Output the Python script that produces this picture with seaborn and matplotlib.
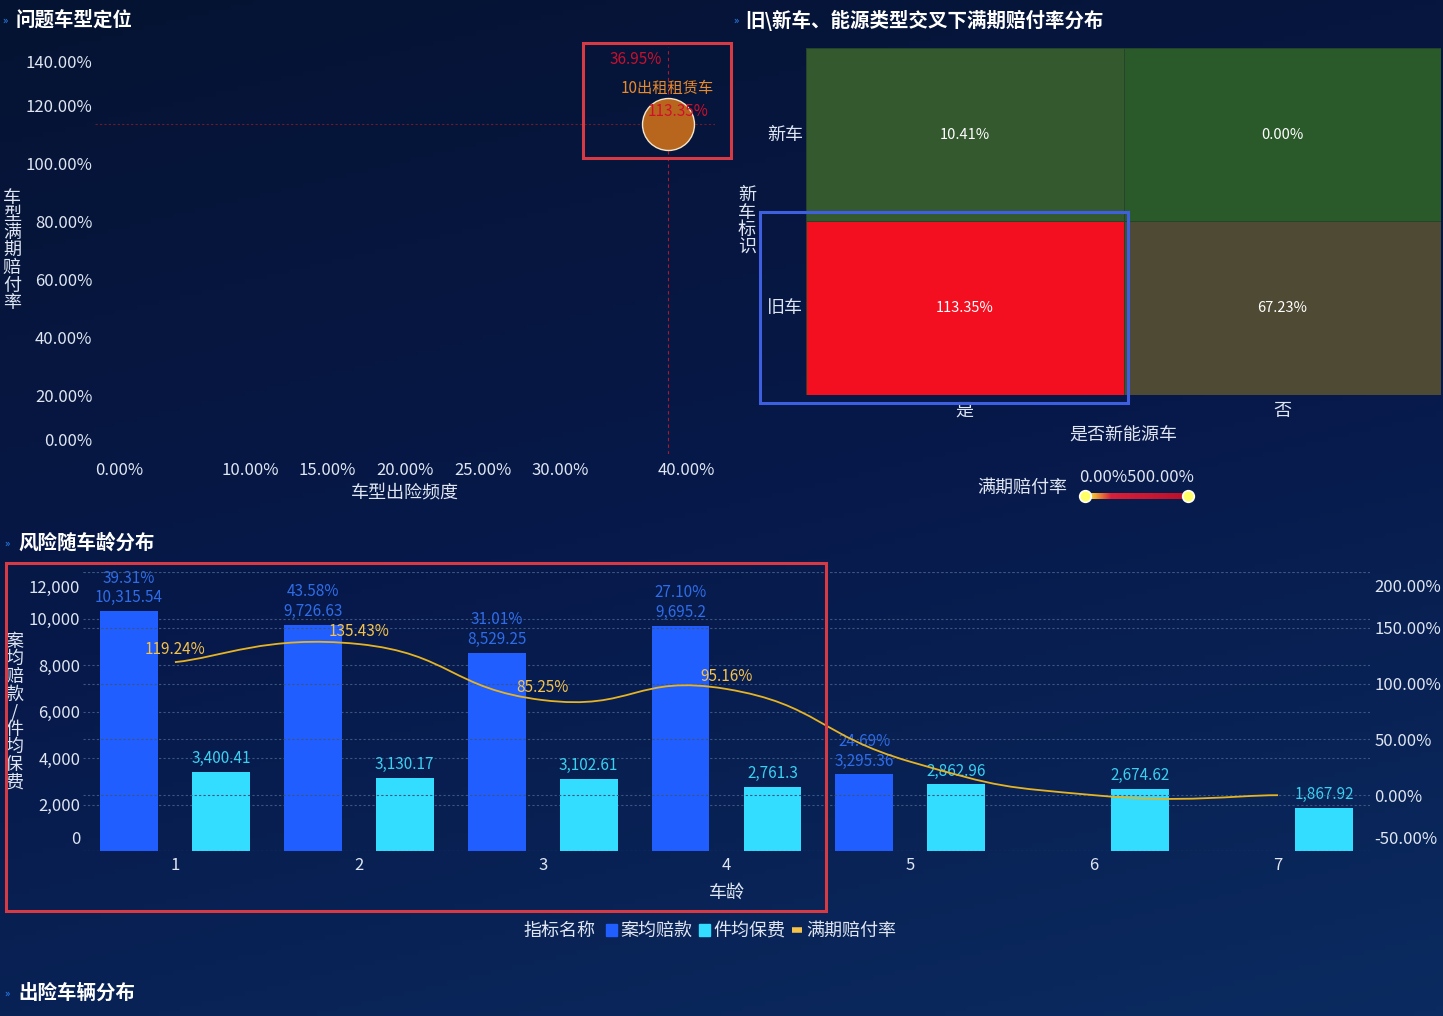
import numpy as np
import pandas as pd
import seaborn as sns
import matplotlib.pyplot as plt
from matplotlib.colors import LinearSegmentedColormap
from matplotlib.patches import Rectangle, PathPatch, Patch
from matplotlib.path import Path
from matplotlib.lines import Line2D
from matplotlib.transforms import ScaledTranslation

W, H = 1443, 1016

# 问题车型定位
car_type = ["10出租租赁车"]
freq_x = [0.3695]
loss_y = [1.1335]
sc_xticks = [0.0, 0.10, 0.15, 0.20, 0.25, 0.30, 0.40]
sc_yticks = [0.0, 0.2, 0.4, 0.6, 0.8, 1.0, 1.2, 1.4]

# 旧\新车、能源类型交叉
new_flag = ["新车", "旧车"]
nev_flag = ["是", "否"]
heat_new = [0.1041, 0.0]
heat_old = [1.1335, 0.6723]
vm_range = [0.0, 5.0]

# 风险随车龄分布
ages = [1, 2, 3, 4, 5, 6, 7]
avg_claim = [10315.54, 9726.63, 8529.25, 9695.2, 3295.36, np.nan, np.nan]
claim_freq = [0.3931, 0.4358, 0.3101, 0.2710, 0.2469, np.nan, np.nan]
avg_premium = [3400.41, 3130.17, 3102.61, 2761.3, 2862.96, 2674.62, 1867.92]
loss_ratio = [119.24, 135.43, 85.25, 95.16, 30.0, 0.0, 0.0]
left_ticks = [0, 2000, 4000, 6000, 8000, 10000, 12000]
right_ticks = [-50, 0, 50, 100, 150, 200]

BLUE = "#215eff"
CYAN = "#33ddff"
GOLD = "#e6b422"
TXT = "#dfe6f2"

sns.set_theme(style="white")
plt.rcParams["font.family"] = ["Noto Sans CJK SC", "DejaVu Sans"]
plt.rcParams["axes.unicode_minus"] = False

fig = plt.figure(figsize=(W / 100, H / 100), dpi=100)


def box(l, t, r, b):
    return [l / W, 1 - b / H, (r - l) / W, (b - t) / H]


def pull_in(labels, px):
    # move the first / last tick label inwards, like the dashboard does
    labels[0].set_transform(labels[0].get_transform() + ScaledTranslation(0, px / 100, fig.dpi_scale_trans))
    labels[-1].set_transform(labels[-1].get_transform() + ScaledTranslation(0, -px / 100, fig.dpi_scale_trans))


# background
bg = fig.add_axes([0, 0, 1, 1], zorder=-10)
yy, xx = np.mgrid[0:1:200j, 0:1:200j]
bg_cmap = LinearSegmentedColormap.from_list("bg", ["#051332", "#07194a", "#0b2b60"])
bg.imshow(0.75 * yy + 0.25 * xx, cmap=bg_cmap, aspect="auto", extent=[0, 1, 1, 0])
bg.axis("off")

# ---------- scatter ----------
ax1 = fig.add_axes(box(95, 47, 715, 454))
ax1.set_facecolor("none")
df_sc = pd.DataFrame({"车型": car_type, "车型出险频度": freq_x, "车型满期赔付率": loss_y})
ax1.axvline(freq_x[0], color="#b0182a", ls=(0, (3, 3)), lw=0.8, zorder=1)
ax1.axhline(loss_y[0], color="#6e1a2a", ls=(0, (2, 2)), lw=0.8, zorder=1)
sns.scatterplot(data=df_sc, x="车型出险频度", y="车型满期赔付率", s=1400, color="#b8661e",
                edgecolor="#f3e6cc", linewidth=1, ax=ax1, zorder=3)
ax1.set_xlim(0, 0.40)
ax1.set_ylim(0, 1.40)
ax1.annotate(f"{freq_x[0]:.2%}", (freq_x[0], 1.40), xytext=(-32, -12), textcoords="offset pixels",
             ha="center", va="center", color="#c8102e", fontsize=11)
ax1.annotate(car_type[0], (freq_x[0], loss_y[0]), xytext=(0, 36), textcoords="offset pixels",
             ha="center", va="center", color="#e8892a", fontsize=11, zorder=4)
ax1.annotate(f"{loss_y[0]:.2%}", (freq_x[0], loss_y[0]), xytext=(10, 13), textcoords="offset pixels",
             ha="center", va="center", color="#d0102a", fontsize=11, zorder=4)
ax1.set_xticks(sc_xticks)
ax1.set_xticklabels([f"{t:.2%}" for t in sc_xticks])
ax1.set_yticks(sc_yticks)
ax1.set_yticklabels([f"{t:.2%}" for t in sc_yticks])
ax1.get_xticklabels()[0].set_ha("left")
ax1.get_xticklabels()[-1].set_ha("right")
ax1.tick_params(axis="x", colors=TXT, labelsize=12, length=0, pad=6)
ax1.tick_params(axis="y", colors=TXT, labelsize=12, length=0, pad=2)
pull_in(ax1.get_yticklabels(), 15)
ax1.set_xlabel("车型出险频度", color=TXT, fontsize=13, labelpad=3)
ax1.set_ylabel("\n".join("车型满期赔付率"), color=TXT, fontsize=13, rotation=0,
               ha="center", va="center", linespacing=0.97)
ax1.yaxis.set_label_coords(-0.134, 0.5)
sns.despine(ax=ax1, left=True, bottom=True)

# ---------- heatmap ----------
ax2 = fig.add_axes(box(806, 48, 1441, 395))
df_heat = pd.DataFrame([heat_new, heat_old], index=new_flag, columns=nev_flag)
vmax = df_heat.values.max()
heat_cmap = LinearSegmentedColormap.from_list(
    "heat", [(0, "#2b5a2a"), (0.1041 / vmax, "#34592f"), (0.6723 / vmax, "#4f4a33"), (1.0, "#f40f20")])
annot = np.array([[f"{v:.2%}" for v in row] for row in df_heat.values])
sns.heatmap(df_heat, cmap=heat_cmap, vmin=0, vmax=vmax, annot=annot, fmt="", cbar=False,
            linewidths=0.6, linecolor="#24452a", annot_kws={"color": "white", "fontsize": 10.5}, ax=ax2)
ax2.tick_params(axis="x", colors=TXT, labelsize=13, length=0, pad=5)
ax2.tick_params(axis="y", colors=TXT, labelsize=13, length=0, pad=2)
plt.setp(ax2.get_yticklabels(), rotation=0)
ax2.set_xlabel("是否新能源车", color=TXT, fontsize=13, labelpad=4)
ax2.set_ylabel("\n".join("新车标识"), color=TXT, fontsize=13, rotation=0,
               ha="center", va="center", linespacing=0.97)
ax2.yaxis.set_label_coords(-0.093, 0.5)

# visual map
ax3 = fig.add_axes(box(1085, 493, 1188, 499))
vm_cmap = LinearSegmentedColormap.from_list("vm", [(0, "#ffff33"), (0.25, "#d8203a"), (1, "#b8102a")])
ax3.imshow(np.linspace(0, 1, 100)[None, :], cmap=vm_cmap, aspect="auto",
           extent=[vm_range[0], vm_range[1], 0, 1])
ax3.scatter(vm_range, [0.5, 0.5], s=70, color="#ffff66", edgecolor="white", linewidth=1.2,
            clip_on=False, zorder=5)
ax3.set_xlim(vm_range)
ax3.set_ylim(0, 1)
ax3.axis("off")

# ---------- bars by car age ----------
ax4 = fig.add_axes(box(83, 572, 1370, 851))
ax4.set_facecolor("none")
df_bar = pd.DataFrame({
    "车龄": ages * 2,
    "指标名称": ["案均赔款"] * len(ages) + ["件均保费"] * len(ages),
    "值": avg_claim + avg_premium,
})
sns.barplot(data=df_bar, x="车龄", y="值", hue="指标名称", hue_order=["案均赔款", "件均保费"],
            palette=[BLUE, CYAN], saturation=1, width=1.0, gap=0.37, errorbar=None,
            linewidth=0, edgecolor="none", legend=False, ax=ax4, zorder=2)
ax4.set_xlim(-0.5, len(ages) - 0.5)
ax4.set_ylim(0, 12000)

claim_lbl = {i: f"{claim_freq[i]:.2%}\n{avg_claim[i]:,}" for i in range(len(ages)) if not np.isnan(avg_claim[i])}
prem_lbl = {i: f"{avg_premium[i]:,}" for i in range(len(ages))}
for cont, lbls, col in [(ax4.containers[0], claim_lbl, "#2f6ce8"), (ax4.containers[1], prem_lbl, "#3ad0f0")]:
    texts = []
    for p in cont:
        idx = int(round(p.get_x() + p.get_width() / 2))
        texts.append(lbls.get(idx, "") if np.isfinite(p.get_height()) else "")
    ax4.bar_label(cont, labels=texts, padding=3.5, color=col, fontsize=11)

ax4.set_yticks(left_ticks)
ax4.set_yticklabels([f"{v:,}" for v in left_ticks])
ax4.set_xticks(range(len(ages)))
ax4.set_xticklabels([str(a) for a in ages])
ax4.tick_params(axis="x", colors=TXT, labelsize=12, length=0, pad=4)
ax4.tick_params(axis="y", colors=TXT, labelsize=12, length=0, pad=2)
pull_in(ax4.get_yticklabels(), 14)
ax4.grid(axis="y", color="#3a5580", ls=(0, (2, 2)), lw=0.8, zorder=0)
ax4.set_axisbelow(True)
ax4.set_xlabel("车龄", color=TXT, fontsize=13, labelpad=7)
ax4.set_ylabel("\n".join("案均赔款/件均保费"), color=TXT, fontsize=13, rotation=0,
               ha="center", va="center", linespacing=0.97)
ax4.yaxis.set_label_coords(-0.0536, 0.498)
sns.despine(ax=ax4, left=True, bottom=True)

ax5 = ax4.twinx()
ax5.set_ylim(right_ticks[0], right_ticks[-1])
ax5.set_yticks(right_ticks)
ax5.set_yticklabels([f"{v:.2f}%" for v in right_ticks])
ax5.tick_params(axis="y", colors=TXT, labelsize=12, length=0, pad=3)
pull_in(ax5.get_yticklabels(), 14)
ax5.grid(axis="y", color="#3a5580", ls=(0, (2, 2)), lw=0.8)
for s in ax5.spines.values():
    s.set_visible(False)

# smooth loss-ratio line (bezier through the points)
pts = np.column_stack([np.arange(len(ages)), loss_ratio]).astype(float)
verts, codes = [pts[0]], [Path.MOVETO]
n = len(pts)
for i in range(n - 1):
    p0, p1, p2, p3 = pts[max(i - 1, 0)], pts[i], pts[i + 1], pts[min(i + 2, n - 1)]
    verts += [p1 + (p2 - p0) * 0.25, p2 - (p3 - p1) * 0.25, p2]
    codes += [Path.CURVE4] * 3
ax5.add_patch(PathPatch(Path(verts, codes), fill=False, edgecolor=GOLD, lw=1.3, zorder=4))
for i in range(4):
    ax5.annotate(f"{loss_ratio[i]:.2f}%", (i, loss_ratio[i]), xytext=(0, 13), textcoords="offset pixels",
                 ha="center", va="center", color="#f5c34a", fontsize=11)

# legend
handles = [Patch(color=BLUE), Patch(color=CYAN), Line2D([0], [0], color="#f5c34a", lw=4, solid_capstyle="butt")]
fig.legend(handles, ["案均赔款", "件均保费", "满期赔付率"], ncol=3, loc="center left",
           bbox_to_anchor=(606 / W, 1 - 931 / H), frameon=False, fontsize=13, labelcolor=TXT,
           handlelength=0.6, handleheight=0.65, handletextpad=0.2, columnspacing=0.35,
           borderpad=0, borderaxespad=0)

# ---------- decorations: titles, frames ----------
deco = fig.add_axes([0, 0, 1, 1], zorder=20)
deco.set_xlim(0, W)
deco.set_ylim(H, 0)
deco.axis("off")
deco.patch.set_alpha(0)

titles = [(5, 16, 20, "问题车型定位"), (736, 745, 20, "旧\\新车、能源类型交叉下满期赔付率分布"),
          (7, 18, 543, "风险随车龄分布"), (7, 18, 993, "出险车辆分布")]
for cx, tx, ty, t in titles:
    deco.text(cx, ty + 1, "»", color="#2f8cff", fontsize=8, ha="center", va="center")
    deco.text(tx, ty, t, color="white", fontsize=14, fontweight="bold", ha="left", va="center")

deco.text(1022, 488, "满期赔付率", color=TXT, fontsize=13, ha="center", va="center")
deco.text(1137, 477, f"{vm_range[0]:.2%}{vm_range[1]:.2%}", color=TXT, fontsize=12, ha="center", va="center")
deco.text(559, 931, "指标名称", color=TXT, fontsize=13, ha="center", va="center")

deco.add_patch(Rectangle((583, 43), 148, 115, fill=False, edgecolor="#d63a44", lw=2.2))
deco.add_patch(Rectangle((760, 212), 368, 191, fill=False, edgecolor="#3d5fe0", lw=2.2))
deco.add_patch(Rectangle((6, 563), 820, 348, fill=False, edgecolor="#d63a44", lw=2.2))

fig.savefig("out.png", dpi=100)
